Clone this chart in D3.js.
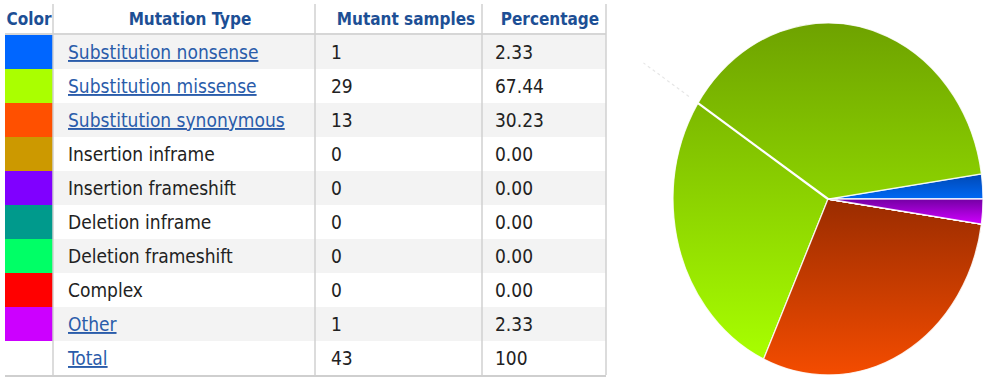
<!DOCTYPE html>
<html>
<head>
<meta charset="utf-8">
<script src="https://cdn.jsdelivr.net/npm/d3@7"></script>
<style>
  body { margin: 0; background: #fff; }
  svg { display: block; }
</style>
</head>
<body>
<div id="chart"></div>
<script>
(function() {
    // table data
    var mutationTypes = ["Substitution nonsense", "Substitution missense", "Substitution synonymous",
                         "Insertion inframe", "Insertion frameshift", "Deletion inframe",
                         "Deletion frameshift", "Complex", "Other"]
    var swatchColors = ["#0066ff", "#aaff00", "#ff5000", "#cc9900", "#8000ff",
                        "#009a8c", "#00ff66", "#ff0000", "#cc00ff"]
    var sampleCounts = [1, 29, 13, 0, 0, 0, 0, 0, 1]
    var percentages = ["2.33", "67.44", "30.23", "0.00", "0.00", "0.00", "0.00", "0.00", "2.33"]
    var isLink = [true, true, true, false, false, false, false, false, true]
    var headers = ["Color", "Mutation Type", "Mutant samples", "Percentage"]
    var totalLabel = "Total", totalSamples = "43", totalPct = "100"

    // pie shading (top colour of each slice gradient)
    var sliceTop = ["#0048b4", "#6ea200", "#9a2c00", "#8a6a00", "#5a00b0", "#006a60", "#00b048", "#b00000", "#7400a4"]
    var sliceBottom = ["#0068f4", "#a8ff00", "#f44c00", "#cc9900", "#8000ff", "#009a8c", "#00ff66", "#ff0000", "#d000ff"]

    var width = 992, height = 385

    var svg = d3.select("#chart").append("svg")
        .attr("width", width)
        .attr("height", height)

    // ---------- table ----------
    var colEdges = [5, 53, 315, 482, 606]
    var headerH = 35, tableBottom = 375
    var rowIds = d3.range(mutationTypes.length + 1)

    var y = d3.scaleBand()
        .domain(rowIds)
        .range([headerH, tableBottom])

    var table = svg.append("g").attr("class", "table")

    // striped rows
    table.selectAll(".stripe")
        .data(rowIds.filter(function(d) { return d % 2 === 0 }))
        .enter().append("rect")
        .attr("class", "stripe")
        .attr("x", colEdges[0])
        .attr("y", function(d) { return y(d) })
        .attr("width", colEdges[4] - colEdges[0])
        .attr("height", y.bandwidth())
        .attr("fill", "#f3f3f3")

    // colour swatches
    table.selectAll(".swatch")
        .data(swatchColors)
        .enter().append("rect")
        .attr("class", "swatch")
        .attr("x", colEdges[0])
        .attr("y", function(d, i) { return y(i) })
        .attr("width", colEdges[1] - colEdges[0])
        .attr("height", y.bandwidth())
        .attr("fill", function(d) { return d })

    // header
    var headerCenters = [29, 190, 406, 550]
    table.selectAll(".head")
        .data(headers)
        .enter().append("text")
        .attr("class", "head")
        .attr("x", function(d, i) { return headerCenters[i] })
        .attr("y", 25)
        .attr("text-anchor", "middle")
        .style("font-family", "'DejaVu Sans Condensed', 'DejaVu Sans', sans-serif")
        .style("font-weight", "bold")
        .style("font-size", "17px")
        .attr("fill", "#1d4f95")
        .text(function(d) { return d })

    table.append("line")
        .attr("x1", colEdges[0]).attr("x2", colEdges[4])
        .attr("y1", headerH - 1).attr("y2", headerH - 1)
        .attr("stroke", "#d6d6d6").attr("stroke-width", 2)

    // column separators
    table.selectAll(".vline")
        .data(colEdges.slice(1))
        .enter().append("line")
        .attr("class", "vline")
        .attr("x1", function(d) { return d }).attr("x2", function(d) { return d })
        .attr("y1", 4).attr("y2", tableBottom)
        .attr("stroke", "#d0d0d0").attr("stroke-width", 1.5)

    table.append("line")
        .attr("x1", colEdges[0]).attr("x2", colEdges[4])
        .attr("y1", tableBottom + 1).attr("y2", tableBottom + 1)
        .attr("stroke", "#cfcfcf").attr("stroke-width", 2)

    var rows = mutationTypes.map(function(name, i) {
        return { name: name, samples: String(sampleCounts[i]), pct: percentages[i], link: isLink[i] }
    })
    rows.push({ name: totalLabel, samples: totalSamples, pct: totalPct, link: true })

    var rowG = table.selectAll(".row")
        .data(rows)
        .enter().append("g")
        .attr("class", "row")
        .attr("transform", function(d, i) { return "translate(0," + (y(i) + y.bandwidth() / 2 + 7) + ")" })
        .style("font-family", "'DejaVu Sans Condensed', 'DejaVu Sans', sans-serif")
        .style("font-size", "19px")

    rowG.append("text")
        .attr("x", 68)
        .attr("fill", function(d) { return d.link ? "#2a5caa" : "#222" })
        .style("text-decoration", function(d) { return d.link ? "underline" : "none" })
        .text(function(d) { return d.name })

    rowG.append("text")
        .attr("x", 331)
        .attr("fill", "#222")
        .text(function(d) { return d.samples })

    rowG.append("text")
        .attr("x", 495)
        .attr("fill", "#222")
        .text(function(d) { return d.pct })

    // ---------- pie ----------
    var cx = 828, cy = 199, rx = 155, ry = 176

    var defs = svg.append("defs")
    defs.selectAll("linearGradient")
        .data(sliceTop)
        .enter().append("linearGradient")
        .attr("id", function(d, i) { return "grad" + i })
        .attr("x1", 0).attr("y1", 0).attr("x2", 0).attr("y2", 1)
        .each(function(d, i) {
            var g = d3.select(this)
            g.append("stop").attr("offset", "0%").attr("stop-color", sliceTop[i])
            g.append("stop").attr("offset", "100%").attr("stop-color", sliceBottom[i])
        })

    // starts at 3 o'clock and runs counter-clockwise
    var pie = d3.pie()
        .sort(null)
        .startAngle(Math.PI / 2)
        .endAngle(Math.PI / 2 - 2 * Math.PI)

    var arc = d3.arc().innerRadius(0).outerRadius(ry)

    var pieG = svg.append("g")
        .attr("transform", "translate(" + cx + "," + cy + ") scale(" + (rx / ry) + ",1)")

    pieG.selectAll(".slice")
        .data(pie(sampleCounts))
        .enter().append("path")
        .attr("class", "slice")
        .attr("d", arc)
        .attr("fill", function(d, i) { return "url(#grad" + i + ")" })
        .attr("stroke", "#fff")
        .attr("stroke-opacity", 0.85)
        .attr("stroke-width", 1.3)
        .attr("vector-effect", "non-scaling-stroke")

    // leftover leader line seen in the original
    var leadAngle = -57 * Math.PI / 180
    var lx = Math.sin(leadAngle), ly = -Math.cos(leadAngle)
    pieG.append("line")
        .attr("x1", 0).attr("y1", 0)
        .attr("x2", lx * ry).attr("y2", ly * ry)
        .attr("stroke", "#fff").attr("stroke-width", 2.2)
        .attr("vector-effect", "non-scaling-stroke")
    pieG.append("line")
        .attr("x1", lx * ry * 1.07).attr("y1", ly * ry * 1.07)
        .attr("x2", lx * ry * 1.42).attr("y2", ly * ry * 1.42)
        .attr("stroke", "#e6e6e6").attr("stroke-width", 1.2)
        .attr("stroke-dasharray", "3,3")
        .attr("vector-effect", "non-scaling-stroke")
})();
</script>
</body>
</html>
